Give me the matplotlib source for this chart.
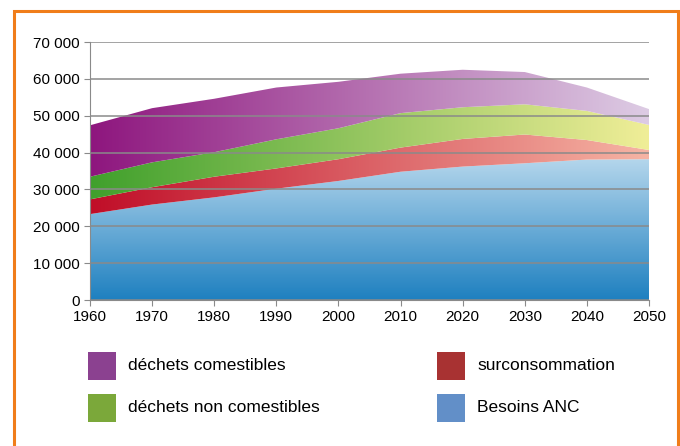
import numpy as np
import matplotlib
matplotlib.use("Agg")
import matplotlib.pyplot as plt
from matplotlib.colors import LinearSegmentedColormap
from matplotlib.patches import Rectangle

plt.rcParams['font.family'] = ['Liberation Sans', 'DejaVu Sans']

# values (cumulative tops converted to layers below)
years = [1960, 1970, 1980, 1990, 2000, 2010, 2020, 2030, 2040, 2050]
besoins = [23300, 25900, 27850, 30200, 32300, 34800, 36200, 37100, 38100, 38200]
surconso = [4000, 4700, 5600, 5500, 5900, 6550, 7500, 7800, 5300, 2500]
non_comest = [6150, 6750, 6650, 7900, 8400, 9350, 8600, 8200, 7900, 6800]
comest = [13950, 14700, 14500, 14050, 12600, 10700, 10170, 8750, 6350, 4300]

labels = ['Besoins ANC', 'surconsommation', 'déchets non comestibles', 'déchets comestibles']
legend_colors = ['#628FC8', '#A83232', '#7BA83A', '#8B4190']
# gradient colours: (start, end)
grad_colors = [('#1E80C0', '#B4D6EC'),   # blue, bottom -> top
               ('#C00E28', '#F6B4A4'),   # red, left -> right
               ('#40A02C', '#F0EE98'),   # green
               ('#8E167E', '#DDCCE4')]   # purple
vertical = [True, False, False, False]

fig = plt.figure(figsize=(6.8, 4.46), dpi=100)
ax = fig.add_axes([90 / 680, 1 - 300 / 446, 559 / 680, 258 / 446])

layers = [besoins, surconso, non_comest, comest]
bottom = np.zeros(len(years))
for vals, (c0, c1), vert in zip(layers, grad_colors, vertical):
    top = bottom + np.array(vals)
    poly = ax.fill_between(years, bottom, top, facecolor='none', edgecolor='none')
    cmap = LinearSegmentedColormap.from_list('g', [c0, c1])
    if vert:
        grad = np.linspace(0, 1, 256).reshape(-1, 1)
        extent = (years[0], years[-1], 0, top.max())
    else:
        grad = np.linspace(0, 1, 256).reshape(1, -1)
        extent = (years[0], years[-1], 0, 70000)
    im = ax.imshow(grad, cmap=cmap, origin='lower', aspect='auto', extent=extent,
                   interpolation='bicubic', zorder=1)
    im.set_clip_path(poly.get_paths()[0], transform=ax.transData)
    bottom = top

ax.set_xlim(1960, 2050)
ax.set_ylim(0, 70000)
ax.set_xticks(years)
ax.set_yticks(range(0, 70001, 10000))
ax.set_yticklabels([f'{v:,}'.replace(',', ' ') for v in range(0, 70001, 10000)])
ax.grid(axis='y', color='#8A8A8A', linewidth=1.1, zorder=3)
ax.set_axisbelow(False)
for s in ['top', 'right']:
    ax.spines[s].set_visible(False)
for s in ['left', 'bottom']:
    ax.spines[s].set_color('#8A8A8A')
    ax.spines[s].set_zorder(4)
ax.tick_params(colors='#8A8A8A', labelcolor='black', labelsize=11, length=4, direction='out')

# legend placed by hand, two columns
pos = {'déchets comestibles': (88, 352), 'surconsommation': (437, 352),
       'déchets non comestibles': (88, 394), 'Besoins ANC': (437, 394)}
for lab, col in zip(labels, legend_colors):
    px, py = pos[lab]
    fig.patches.append(Rectangle((px / 680, 1 - (py + 28) / 446), 28 / 680, 28 / 446,
                                 transform=fig.transFigure, facecolor=col, edgecolor='none'))
    fig.text((px + 40) / 680, 1 - (py + 14) / 446, lab, fontsize=12.5, va='center', ha='left')

# orange frame
fig.patches.append(Rectangle((14 / 680, -0.05), 664 / 680, 1.05 - 11 / 446,
                             transform=fig.transFigure, facecolor='none',
                             edgecolor='#F07D1A', linewidth=2.2))

fig.savefig('out.png', dpi=100)
